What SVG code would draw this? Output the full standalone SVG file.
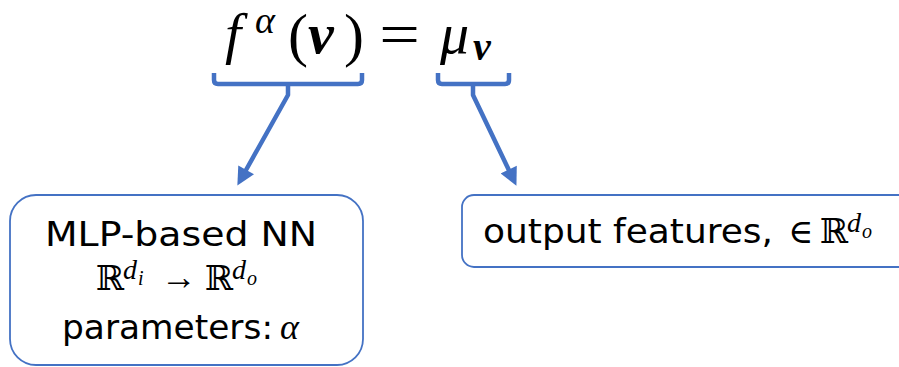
<svg xmlns="http://www.w3.org/2000/svg" width="899" height="367" viewBox="0 0 899 367">
<defs>
<style>
.box{fill:#fff;stroke:#4472C4;stroke-width:1.8}
.lbl{font-family:"DejaVu Sans",sans-serif;font-size:33px;fill:#000}
.m{font-family:"Liberation Serif","DejaVu Serif",serif;fill:#000}
.mi{font-family:"Liberation Serif","DejaVu Serif",serif;font-style:italic;fill:#000}
.bs{font-family:"DejaVu Serif",serif;fill:#000}
.con{fill:none;stroke:#4472C4;stroke-width:4.5;stroke-linejoin:round}
</style>
<marker id="ah" viewBox="0 0 10 10" refX="3" refY="5" markerWidth="4.2" markerHeight="4" orient="auto" markerUnits="strokeWidth">
<path d="M0,0 L10,5 L0,10 z" fill="#4472C4"/>
</marker>
</defs>
<rect width="899" height="367" fill="#fff"/>

<g id="equation">
<text class="mi" x="225" y="53" font-size="58">f</text>
<text class="mi" x="255" y="33" font-size="38">α</text>
<text class="m" x="288" y="55" font-size="60">(</text>
<text class="mi" x="308" y="53" font-size="58" font-weight="bold">ν</text>
<text class="m" x="344" y="55" font-size="60">)</text>
<text class="m" x="316" y="54" font-size="60" transform="scale(1.2,1)">=</text>
<text class="mi" x="440" y="53" font-size="58">μ</text>
<text class="mi" x="473" y="60" font-size="40" font-weight="bold">ν</text>
</g>

<g id="connectors">
<path class="con" d="M214,73 V80 Q214,84 218,84 H358 Q362,84 362,80 V73"/>
<path class="con" d="M288,84 V95 L243.5,174.5" marker-end="url(#ah)"/>
<path class="con" d="M438,73 V80 Q438,84 442,84 H505 Q509,84 509,80 V73"/>
<path class="con" d="M473,84 V95 L511,174.5" marker-end="url(#ah)"/>
</g>

<g id="node-mlp">
<rect class="box" x="10" y="195" width="353" height="170" rx="26"/>
<text class="lbl" x="45" y="246" textLength="272" lengthAdjust="spacingAndGlyphs">MLP-based NN</text>
<text class="bs" x="96" y="290" font-size="34">ℝ</text>
<text class="mi" x="123" y="279" font-size="28">d</text>
<text class="mi" x="138" y="285" font-size="20">i</text>
<text class="m" x="161" y="289" font-size="36">→</text>
<text class="bs" x="205" y="290" font-size="34">ℝ</text>
<text class="mi" x="232" y="279" font-size="28">d</text>
<text class="mi" x="247" y="285" font-size="20">o</text>
<text class="lbl" x="62" y="339" textLength="211" lengthAdjust="spacingAndGlyphs">parameters:</text>
<text class="mi" x="280" y="339" font-size="36">α</text>
</g>

<g id="node-output">
<rect class="box" x="462" y="195" width="460" height="72" rx="12"/>
<text class="lbl" x="483" y="243" textLength="290" lengthAdjust="spacingAndGlyphs">output features,</text>
<text class="m" x="788" y="243" font-size="34">∈</text>
<text class="bs" x="820" y="243" font-size="34">ℝ</text>
<text class="mi" x="847" y="232" font-size="28">d</text>
<text class="mi" x="862" y="238" font-size="20">o</text>
</g>
</svg>
